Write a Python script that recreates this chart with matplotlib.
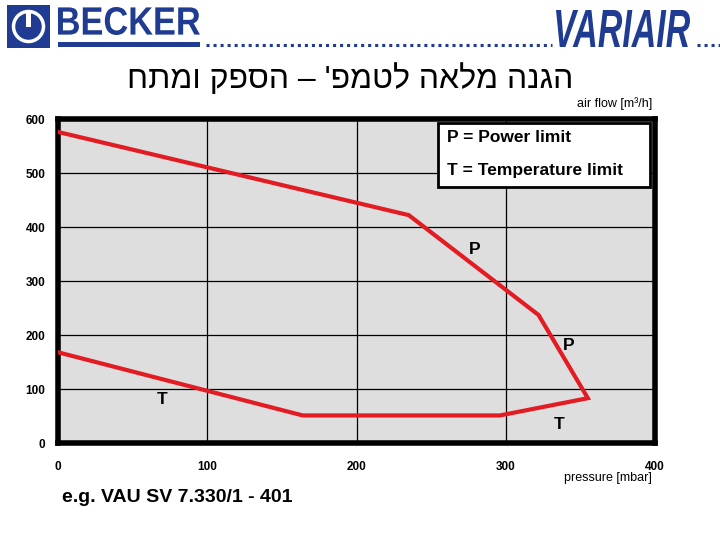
import matplotlib
matplotlib.use("Agg")
import matplotlib.pyplot as plt
from matplotlib.patches import Rectangle, Circle, PathPatch
from matplotlib.lines import Line2D
from matplotlib.textpath import TextPath
from matplotlib.font_manager import FontProperties
from matplotlib.transforms import Affine2D, IdentityTransform

# boundary of the operating range (pressure in mbar, air flow in m3/h)
pressure = [0, 235, 322, 355, 296, 164, 0]
airflow = [576, 422, 237, 83, 51, 51, 168]

x_ticks = [0, 100, 200, 300, 400]
y_ticks = [0, 100, 200, 300, 400, 500, 600]

limit_labels = ["P", "P", "T", "T"]
label_x = [279, 342, 70, 336]
label_y = [359, 180, 81, 35]

legend_lines = ["P = Power limit", "T = Temperature limit"]
title_he = "הגנה מלאה לטמפ' – הספק ומתח"
example_txt = "e.g. VAU SV 7.330/1 - 401"

W, H = 720, 540
BLUE = "#1f3c92"
RED = "#e31b23"
plt.rcParams["font.family"] = ["Liberation Sans", "DejaVu Sans"]

fig = plt.figure(figsize=(7.2, 5.4), dpi=100)
px = IdentityTransform()


def box_text(s, x0, y0, x1, y1, color, **fp):
    # squeeze text into a pixel box (y from the top)
    tp = TextPath((0, 0), s, prop=FontProperties(**fp))
    bb = tp.get_extents()
    tr = (Affine2D().translate(-bb.x0, -bb.y0)
          .scale((x1 - x0) / bb.width, (y1 - y0) / bb.height)
          .translate(x0, H - y1))
    fig.add_artist(PathPatch(tr.transform_path(tp), fc=color, lw=0, transform=px))


# header logos
fig.add_artist(Rectangle((7, H - 48), 43, 43, fc=BLUE, lw=0, transform=px))
fig.add_artist(Circle((28.5, H - 26.5), 15, fc="none", ec="white", lw=2.5, transform=px))
fig.add_artist(Rectangle((26, H - 27), 5, 14, fc="white", lw=0, transform=px))
box_text("BECKER", 58, 7, 200, 35, BLUE, family=["Liberation Sans Narrow", "Liberation Sans"], weight="bold")
fig.add_artist(Rectangle((58, H - 47), 142, 5, fc=BLUE, lw=0, transform=px))
fig.add_artist(Line2D([206, 552], [H - 45, H - 45], color=BLUE, lw=2.2,
                      ls=(0, (1, 1.3)), transform=px))
box_text("VARIAIR", 556, 10, 690, 47, BLUE, family=["Liberation Sans Narrow", "Liberation Sans"],
         weight="bold", style="italic")
fig.add_artist(Line2D([697, 720], [H - 45, H - 45], color=BLUE, lw=2.2,
                      ls=(0, (1, 1.3)), transform=px))

# hebrew title, reversed for right-to-left display
fig.text(350 / W, 1 - 79 / H, title_he[::-1], fontsize=23, ha="center", va="center")

ax = fig.add_axes([58 / W, 97 / H, 597 / W, 324 / H])
ax.set_facecolor("#dedede")
ax.set_xlim(0, 400)
ax.set_ylim(0, 600)
ax.set_xticks(x_ticks)
ax.set_yticks(y_ticks)
ax.grid(True, color="black", lw=0.9)
ax.set_axisbelow(True)
for sp in ax.spines.values():
    sp.set_linewidth(4)
ax.tick_params(length=0, labelsize=8.5)
ax.tick_params(axis="x", pad=13)
ax.tick_params(axis="y", pad=9)
for lab in ax.get_xticklabels() + ax.get_yticklabels():
    lab.set_fontweight("bold")

ax.plot(pressure, airflow, color=RED, lw=3, solid_joinstyle="miter", zorder=3)

for t, lx, ly in zip(limit_labels, label_x, label_y):
    ax.text(lx, ly, t, fontsize=12.5, weight="bold", ha="center", va="center")

# legend box
fig.add_artist(Rectangle((438, H - 187), 212, 64, fc="white", ec="black", lw=2,
                         transform=px, zorder=5))
fig.text(447 / W, 1 - 138 / H, legend_lines[0], fontsize=12.5, weight="bold", va="center", zorder=6)
fig.text(447 / W, 1 - 171 / H, legend_lines[1], fontsize=12.5, weight="bold", va="center", zorder=6)

fig.text(652 / W, 1 - 104 / H, "air flow [m³/h]", fontsize=9, ha="right", va="center")
fig.text(652 / W, 1 - 478 / H, "pressure [mbar]", fontsize=9, ha="right", va="center")
fig.text(62 / W, 1 - 497 / H, example_txt, fontsize=14, weight="bold", va="center")

fig.savefig("out.png", dpi=100)
